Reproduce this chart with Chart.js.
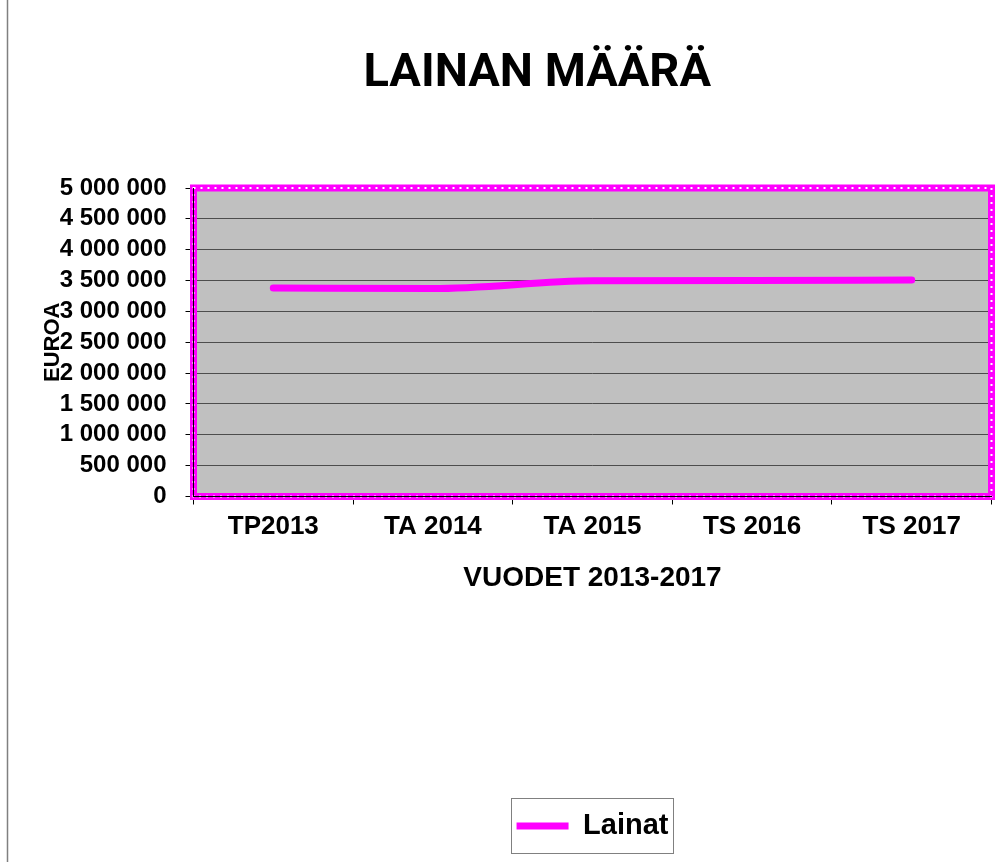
<!DOCTYPE html>
<html>
<head>
<meta charset="utf-8">
<script src="https://cdn.jsdelivr.net/npm/chart.js@4"></script>
<style>
    html,body{margin:0;padding:0;background:#fff;}
    #chart{display:block;}
</style>
</head>
<body>
<canvas id="chart" width="1006" height="862"></canvas>
<script>

const years = ["TP2013","TA 2014","TA 2015","TS 2016","TS 2017"];
const lainat = [3380000,3370000,3495000,3500000,3510000];
const seriesName = "Lainat";
const yMin = 0;
const yMax = 5000000;
const yStep = 500000;

const arial = "'Liberation Sans', Arial, sans-serif";

function spaced(v){
    return v.toString().replace(/\B(?=(\d{3})+(?!\d))/g," ");
}

// gray plot background, dotted magenta frame, left page line, legend box
const decor = {
    id:"decor",
    afterLayout(chart){
        // the title sits a bit right of the page centre in the original
        chart.titleBlock.left += 41.5;
        chart.titleBlock.right += 41.5;
    },
    beforeDraw(chart){
        const {ctx, chartArea:a} = chart;
        ctx.save();
        ctx.fillStyle = "#c0c0c0";
        ctx.fillRect(a.left, a.top, a.right - a.left, a.bottom - a.top);
        ctx.strokeStyle = "#808080";
        ctx.lineWidth = 1.5;
        ctx.beginPath();
        ctx.moveTo(7.5, 0);
        ctx.lineTo(7.5, chart.height);
        ctx.stroke();
        ctx.restore();
    },
    beforeDatasetsDraw(chart){
        const {ctx, chartArea:a} = chart;
        ctx.save();
        ctx.strokeStyle = "#ff00ff";
        ctx.lineWidth = 7;
        ctx.strokeRect(a.left, a.top, a.right - a.left, a.bottom - a.top);
        ctx.strokeStyle = "#ffffff";
        ctx.lineWidth = 2;
        ctx.setLineDash([2,5]);
        ctx.strokeRect(a.left, a.top, a.right - a.left, a.bottom - a.top);
        ctx.restore();
    },
    afterDraw(chart){
        const hb = chart.legend.legendHitBoxes[0];
        if(!hb) return;
        const {ctx} = chart;
        const cy = hb.top + hb.height/2;
        ctx.save();
        ctx.strokeStyle = "#808080";
        ctx.lineWidth = 1;
        ctx.strokeRect(
            Math.round(hb.left - 6) + 0.5,
            Math.round(cy - 28) + 0.5,
            Math.round(hb.width + 10),
            55
        );
        ctx.restore();
    }
};

const chart = new Chart(
    document.getElementById("chart"),
    {
        type:"line",
        data:{
            labels:years,
            datasets:[
                {
                    label:seriesName,
                    data:lainat,
                    borderColor:"#ff00ff",
                    backgroundColor:"#ff00ff",
                    borderWidth:7,
                    borderCapStyle:"round",
                    cubicInterpolationMode:"monotone",
                    pointRadius:0,
                    pointHoverRadius:0,
                    fill:false
                }
            ]
        },
        options:{
            responsive:false,
            animation:false,
            devicePixelRatio:1,
            layout:{ padding:{ top:0, right:14.5, bottom:11.5, left:0 } },
            plugins:{
                title:{
                    display:true,
                    text:"LAINAN MÄÄRÄ",
                    color:"#000",
                    font:{ family:"Roboto", size:47, weight:"bold" },
                    padding:{ top:46, bottom:85.6 }
                },
                legend:{
                    display:true,
                    position:"bottom",
                    fullSize:false,
                    labels:{
                        usePointStyle:true,
                        pointStyle:"line",
                        pointStyleWidth:52,
                        padding:216,
                        color:"#000",
                        font:{ family:arial, size:29, weight:"bold" }
                    }
                },
                tooltip:{ enabled:false }
            },
            scales:{
                x:{
                    offset:true,
                    grid:{
                        offset:true,
                        drawOnChartArea:false,
                        drawTicks:true,
                        tickLength:8,
                        tickColor:"#000"
                    },
                    border:{ display:true, color:"#000", width:1, z:1 },
                    ticks:{
                        color:"#000",
                        padding:7,
                        maxRotation:0,
                        font:{ family:arial, size:26, weight:"bold" }
                    },
                    title:{
                        display:true,
                        text:"VUODET 2013-2017",
                        color:"#000",
                        padding:{ top:0, bottom:0 },
                        font:{ family:arial, size:28, weight:"bold" }
                    },
                    afterFit(scale){ scale.height = 99; }
                },
                y:{
                    min:yMin,
                    max:yMax,
                    grid:{
                        color:"#4d4d4d",
                        lineWidth:1,
                        tickLength:8,
                        tickColor:"#000"
                    },
                    border:{ display:true, color:"#000", width:1, z:1 },
                    ticks:{
                        stepSize:yStep,
                        autoSkip:false,
                        color:"#000",
                        padding:19,
                        font:{ family:arial, size:24, weight:"bold" },
                        callback:v => spaced(v)
                    },
                    title:{
                        display:true,
                        text:"EUROA",
                        color:"#000",
                        padding:{ top:40, bottom:0 },
                        font:{ family:arial, size:22, weight:"bold" }
                    },
                    afterFit(scale){ scale.width = 193.5; }
                }
            }
        },
        plugins:[decor]
    }
);
</script>
</body>
</html>
